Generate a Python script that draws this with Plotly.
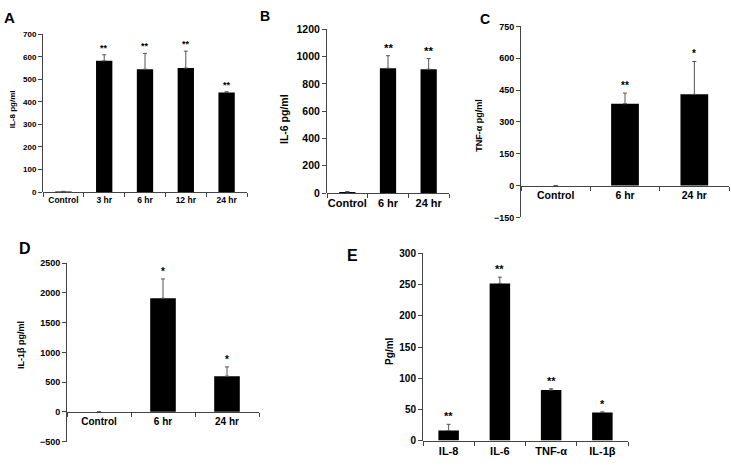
import plotly.graph_objects as go

W, H = 731, 467

# ---------- data ----------
a_cats = ["Control", "3 hr", "6 hr", "12 hr", "24 hr"]
a_vals = [3, 582, 545, 550, 442]
a_err = [0, 27, 70, 75, 3]
a_sig = ["", "**", "**", "**", "**"]

b_cats = ["Control", "6 hr", "24 hr"]
b_vals = [8, 915, 908]
b_err = [3, 92, 78]
b_sig = ["", "**", "**"]

c_cats = ["Control", "6 hr", "24 hr"]
c_vals = [0, 386, 430]
c_err = [0, 50, 155]
c_sig = ["", "**", "*"]

d_cats = ["Control", "6 hr", "24 hr"]
d_vals = [0, 1910, 600]
d_err = [0, 325, 155]
d_sig = ["", "*", "*"]

e_cats = ["IL-8", "IL-6", "TNF-α", "IL-1β"]
e_vals = [16, 252, 81, 45]
e_err = [10, 10, 2, 1]
e_sig = ["**", "**", "**", "*"]

panels = [
    dict(c=a_cats, v=a_vals, e=a_err, s=a_sig, xd=(43, 247), yd=(29, 191), r=(0, 700), dt=100,
         yt="IL-8 pg/ml", ytx=12, yty=106, fx=8.5, fy=8, lab="A", lx=9, ly=12, lfs=15),
    dict(c=b_cats, v=b_vals, e=b_err, s=b_sig, xd=(327, 449), yd=(24, 192), r=(0, 1200), dt=200,
         yt="IL-6 pg/ml", ytx=284, yty=116, fx=11, fy=10.5, lab="B", lx=265, ly=10, lfs=14),
    dict(c=c_cats, v=c_vals, e=c_err, s=c_sig, xd=(521, 729), yd=(21, 217), r=(-150, 750), dt=150,
         yt="TNF-α pg/ml", ytx=479, yty=122, fx=10.5, fy=9, lab="C", lx=485, ly=13, lfs=14),
    dict(c=d_cats, v=d_vals, e=d_err, s=d_sig, xd=(67, 259), yd=(264, 447), r=(-500, 2500), dt=500,
         yt="IL-1β pg/ml", ytx=21, yty=348, fx=10, fy=9, lab="D", lx=25, ly=249, lfs=16),
    dict(c=e_cats, v=e_vals, e=e_err, s=e_sig, xd=(423, 628), yd=(254, 446), r=(0, 300), dt=50,
         yt="Pg/ml", ytx=390, yty=355, fx=11, fy=10, lab="E", lx=352, ly=256, lfs=16),
]

FONT = "Liberation Sans, Arial, sans-serif"
fig = go.Figure()
annotations = []
layout = {}

for i, p in enumerate(panels, start=1):
    xn = "x" if i == 1 else f"x{i}"
    yn = "y" if i == 1 else f"y{i}"
    xk = "xaxis" if i == 1 else f"xaxis{i}"
    yk = "yaxis" if i == 1 else f"yaxis{i}"
    fig.add_trace(go.Bar(
        x=p["c"], y=p["v"], xaxis=xn, yaxis=yn, width=0.4,
        marker=dict(color="black", line=dict(width=0)),
        error_y=dict(type="data", array=p["e"], arrayminus=[0] * len(p["e"]), symmetric=False,
                     color="#555555", thickness=1, width=2),
        showlegend=False, hoverinfo="skip",
    ))
    x0, x1 = p["xd"][0] / W, p["xd"][1] / W
    ytop, ybot = 1 - p["yd"][0] / H, 1 - p["yd"][1] / H
    r0, r1 = p["r"]
    zero_pos = ybot + (0 - r0) / (r1 - r0) * (ytop - ybot)
    xf = dict(family=FONT, size=p["fx"], color="black", weight="bold")
    yf = dict(family=FONT, size=p["fy"], color="black", weight="bold")
    layout[xk] = dict(
        domain=[x0, x1], anchor="free", position=zero_pos, type="category",
        range=[-0.5, len(p["c"]) - 0.5], showline=True, linecolor="#444444", linewidth=1,
        ticks="outside", tickson="boundaries", ticklen=4, tickcolor="#444444", tickangle=0,
        tickfont=xf, showgrid=False, zeroline=False, fixedrange=True,
    )
    layout[yk] = dict(
        domain=[ybot, ytop], anchor=xn, range=[r0, r1], dtick=p["dt"], tick0=0,
        showline=True, linecolor="#444444", linewidth=1, ticks="outside", ticklen=4,
        tickcolor="#444444", tickfont=yf,
        showgrid=False, zeroline=False, fixedrange=True,
    )
    for cat, v, e, s in zip(p["c"], p["v"], p["e"], p["s"]):
        if s:
            annotations.append(dict(x=cat, y=v + e, xref=xn, yref=yn, text=s, showarrow=False,
                                    yanchor="bottom", yshift=0,
                                    font=dict(family=FONT, size=p["fy"] + 1, color="black", weight="bold")))
    annotations.append(dict(x=p["ytx"] / W, y=1 - p["yty"] / H, xref="paper", yref="paper",
                            text=p["yt"], textangle=-90, showarrow=False,
                            xanchor="center", yanchor="middle", font=yf))
    annotations.append(dict(x=p["lx"] / W, y=1 - p["ly"] / H, xref="paper", yref="paper", text=p["lab"],
                            showarrow=False, xanchor="center", yanchor="middle",
                            font=dict(family=FONT, size=p["lfs"], color="black", weight="bold")))

fig.update_layout(
    width=W, height=H, margin=dict(l=0, r=0, t=0, b=0),
    paper_bgcolor="white", plot_bgcolor="white",
    annotations=annotations, **layout,
)
fig.write_html("out.html", config={"displayModeBar": False, "staticPlot": True},
               post_script="document.body.style.margin='0';document.body.style.padding='0';")
